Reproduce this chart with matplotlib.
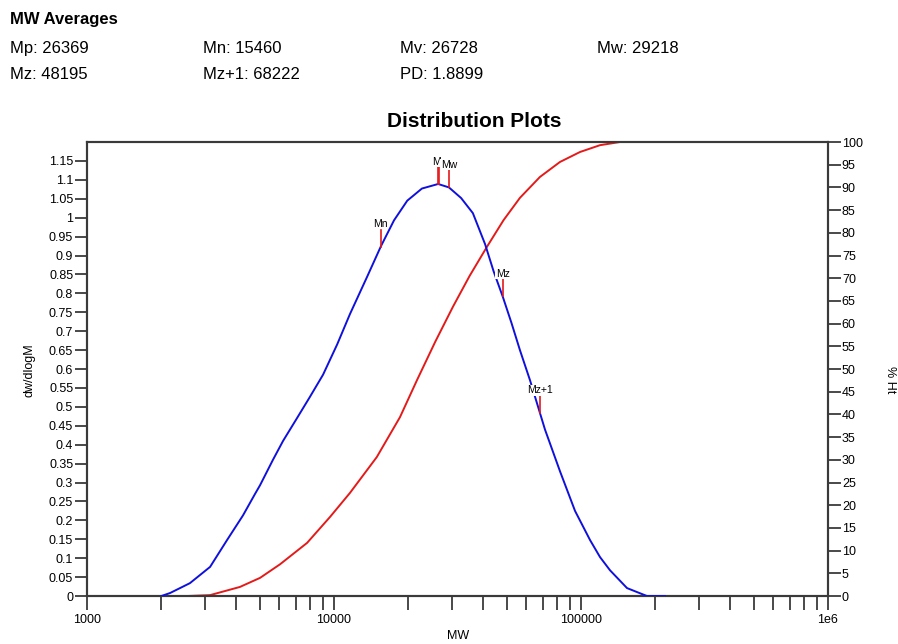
import matplotlib
matplotlib.use("Agg")
import matplotlib.pyplot as plt
import numpy as np
from matplotlib.ticker import FixedLocator, NullFormatter

plt.rcParams["font.family"] = ["Liberation Sans", "DejaVu Sans"]

# MW averages shown in the header and as markers on the curve
avg_names = ["Mp", "Mv", "Mw", "Mn", "Mz", "Mz+1"]
avg_values = [26369, 26728, 29218, 15460, 48195, 68222]
pd_value = 1.8899

# dw/dlogM distribution (blue)
dist_mw = [2000, 2170, 2610, 3150, 3690, 4280, 4790, 5020, 5660, 6220, 7080,
           8000, 9030, 10300, 11600, 13600, 15500, 17500, 19800, 22700, 26400,
           29200, 32700, 36500, 40900, 44300, 48300, 52300, 56600, 62200,
           68200, 71500, 82200, 94600, 108800, 119400, 131100, 153600, 185000,
           219000]
dist_w = [0.0, 0.008, 0.034, 0.077, 0.148, 0.213, 0.27, 0.293, 0.36, 0.41,
          0.47, 0.527, 0.585, 0.665, 0.745, 0.843, 0.925, 0.993, 1.045, 1.077,
          1.089, 1.08, 1.052, 1.012, 0.93, 0.858, 0.79, 0.722, 0.65, 0.57,
          0.484, 0.44, 0.33, 0.225, 0.148, 0.103, 0.068, 0.021, 0.0, 0.0]

# cumulative % Ht (red)
cum_mw = [2000, 2540, 3150, 4160, 5020, 6050, 7780, 9630, 11600, 14900, 18500,
          21700, 25700, 30300, 35400, 41600, 48600, 56600, 68200, 82200,
          99100, 119400, 143900, 215000]
cum_pct = [0.0, 0.0, 0.2, 2.0, 4.0, 7.0, 11.7, 17.4, 22.7, 30.6, 39.4, 47.6,
           56.0, 63.7, 70.5, 76.9, 82.8, 87.7, 92.3, 95.6, 97.8, 99.3, 100.0,
           100.0]

fig = plt.figure(figsize=(8.98, 6.44), dpi=100)
ax = fig.add_axes([0.0969, 0.0745, 0.8251, 0.705])
ax2 = ax.twinx()

spine_col = "#3a3a3a"

ax.plot(dist_mw, dist_w, color="#1010dd", lw=1.4, zorder=3)
ax2.plot(cum_mw, cum_pct, color="#e41a1a", lw=1.4, zorder=2)

ax.set_xscale("log")
ax.set_xlim(1000, 1e6)
ax.set_ylim(0, 1.2)
ax2.set_ylim(0, 100)
ax.set_zorder(ax2.get_zorder() + 1)
ax.patch.set_visible(False)

# marker ticks for the averages
log_mw = np.log10(dist_mw)
for name, val in zip(avg_names, avg_values):
    y0 = np.interp(np.log10(val), log_mw, dist_w)
    ax.plot([val, val], [y0, y0 + 0.045], color="#e41a1a", lw=1.2, zorder=4)
    ax.text(val, y0 + 0.047, name, ha="center", va="bottom", fontsize=7.5,
            zorder=5, bbox=dict(facecolor="white", edgecolor="none", pad=0.3))

# x ticks
major = [1e3, 1e4, 1e5, 1e6]
ax.xaxis.set_major_locator(FixedLocator(major))
ax.set_xticklabels(["1000", "10000", "100000", "1e6"])
ax.xaxis.set_minor_locator(FixedLocator(
    [m * d for d in [1e3, 1e4, 1e5] for m in range(2, 10)]))
ax.xaxis.set_minor_formatter(NullFormatter())
ax.tick_params(axis="x", which="both", direction="out", length=10, width=1.3,
               color=spine_col, labelsize=9, pad=3)

# y ticks
yt = np.arange(0, 1.151, 0.05)
ax.set_yticks(yt)
ax.set_yticklabels(["%g" % round(v, 2) for v in yt])
ax.tick_params(axis="y", direction="out", length=9, width=1.3,
               color=spine_col, labelsize=9, pad=1)
rt = np.arange(0, 101, 5)
ax2.set_yticks(rt)
ax2.set_yticklabels([str(v) for v in rt])
ax2.tick_params(axis="y", direction="out", length=9, width=1.3,
                color=spine_col, labelsize=9, pad=1)

for a in (ax, ax2):
    for s in a.spines.values():
        s.set_color(spine_col)
        s.set_linewidth(1.5)

# labels and title
fig.text(0.51, 0.012, "MW", ha="center", va="center", fontsize=9)
fig.text(0.033, 0.4255, "dw/dlogM", ha="center", va="center", fontsize=9,
         rotation=90)
fig.text(0.991, 0.41, "% Ht", ha="center", va="center", fontsize=9,
         rotation=270)
fig.text(0.528, 0.812, "Distribution Plots", ha="center", va="center",
         fontsize=15, fontweight="bold")

# header block
fig.text(0.011, 0.969, "MW Averages", ha="left", va="center", fontsize=12,
         fontweight="bold")
vals = dict(zip(avg_names, avg_values))
row1 = [("Mp", vals["Mp"]), ("Mn", vals["Mn"]), ("Mv", vals["Mv"]),
        ("Mw", vals["Mw"])]
row2 = [("Mz", vals["Mz"]), ("Mz+1", vals["Mz+1"]), ("PD", pd_value)]
col_x = [0.011, 0.226, 0.445, 0.665]
for i, (n, v) in enumerate(row1):
    fig.text(col_x[i], 0.925, "%s: %s" % (n, v), ha="left", va="center",
             fontsize=12)
for i, (n, v) in enumerate(row2):
    fig.text(col_x[i], 0.884, "%s: %s" % (n, v), ha="left", va="center",
             fontsize=12)

fig.savefig("out.png", dpi=100)
